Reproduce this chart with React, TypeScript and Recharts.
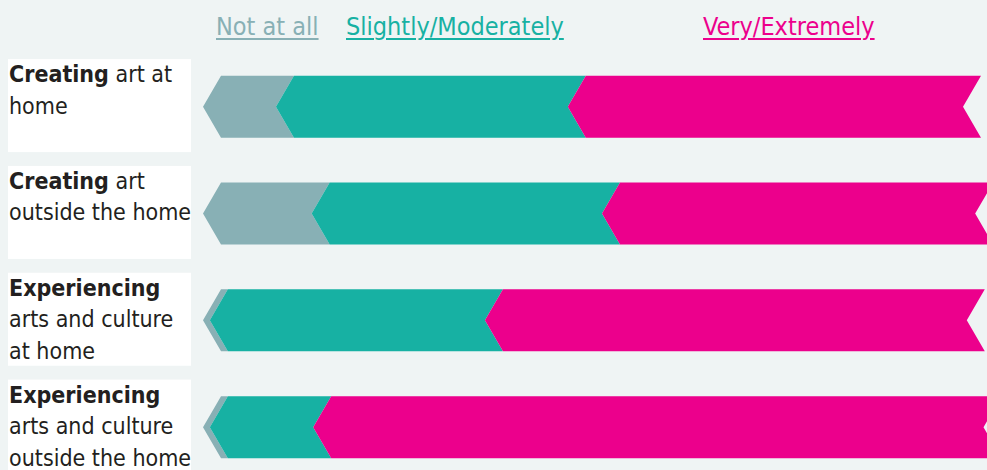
import { Bar, BarChart, XAxis, YAxis } from "recharts";

const categories = [
  "Creating art at home",
  "Creating art outside the home",
  "Experiencing arts and culture at home",
  "Experiencing arts and culture outside the home",
];
const boldWords = ["Creating", "Creating", "Experiencing", "Experiencing"];
const labelLines = [
  [" art at", "home"],
  [" art", "outside the home"],
  ["", "arts and culture", "at home"],
  ["", "arts and culture", "outside the home"],
];

const notAtAll = [9.6, 14.3, 0.9, 0.9];
const slightly = [38.4, 38.2, 36.2, 13.6];
const very = [52.0, 49.1, 63.4, 88.2];

const seriesNames = ["Not at all", "Slightly/Moderately", "Very/Extremely"];
const colors = ["#88b0b5", "#17b1a3", "#ec008c"];
const legendX = [216, 346, 703];

const data = categories.map((name, i) => ({
  name,
  notAtAll: notAtAll[i],
  slightly: slightly[i],
  very: very[i],
}));

const FONT = "'Liberation Sans Narrow', 'DejaVu Sans Condensed', 'Roboto', sans-serif";
const NOTCH = 18;

function Chevron(props: any) {
  const { x, y, width, height, fill } = props;
  if (!width || width <= 0) return null;
  const cy = y + height / 2;
  const pts = [
    [x, cy],
    [x + NOTCH, y],
    [x + width + NOTCH, y],
    [x + width, cy],
    [x + width + NOTCH, y + height],
    [x + NOTCH, y + height],
  ]
    .map((p) => p.join(","))
    .join(" ");
  return <polygon points={pts} fill={fill} />;
}

function LabelTick(props: any) {
  const { y, index } = props;
  const top = y - 48;
  const lines = labelLines[index] || [];
  return (
    <g>
      <rect x={8} y={top} width={183} height={93} fill="#ffffff" />
      <text x={9} y={top + 23} fontFamily={FONT} fontSize={23} fill="#231f20">
        <tspan fontWeight="bold">{boldWords[index]}</tspan>
        <tspan>{lines[0]}</tspan>
        {lines.slice(1).map((l: string, k: number) => (
          <tspan key={k} x={9} dy={31.5}>
            {l}
          </tspan>
        ))}
      </text>
    </g>
  );
}

export default function App() {
  return (
    <div
      style={{
        position: "absolute",
        left: 0,
        top: 0,
        width: 987,
        height: 470,
        overflow: "hidden",
        background: "#eff4f4",
      }}
    >
      {seriesNames.map((s, i) => (
        <span
          key={s}
          style={{
            position: "absolute",
            left: legendX[i],
            top: 12,
            fontFamily: FONT,
            fontSize: 25,
            color: colors[i],
            textDecoration: "underline",
            textUnderlineOffset: 3,
            textDecorationThickness: 1.5,
            lineHeight: "30px",
          }}
        >
          {s}
        </span>
      ))}
      <div style={{ position: "absolute", left: 0, top: 0 }}>
        <BarChart
          width={1001}
          height={481}
          data={data}
          layout="vertical"
          margin={{ top: 53.7, right: 0, bottom: 0, left: 8 }}
          barSize={62}
        >
          <XAxis type="number" domain={[0, 105]} hide />
          <YAxis
            type="category"
            dataKey="name"
            width={195}
            axisLine={false}
            tickLine={false}
            tick={<LabelTick />}
          />
          <Bar dataKey="notAtAll" stackId="a" fill={colors[0]} shape={<Chevron />} isAnimationActive={false} />
          <Bar dataKey="slightly" stackId="a" fill={colors[1]} shape={<Chevron />} isAnimationActive={false} />
          <Bar dataKey="very" stackId="a" fill={colors[2]} shape={<Chevron />} isAnimationActive={false} />
        </BarChart>
      </div>
    </div>
  );
}
